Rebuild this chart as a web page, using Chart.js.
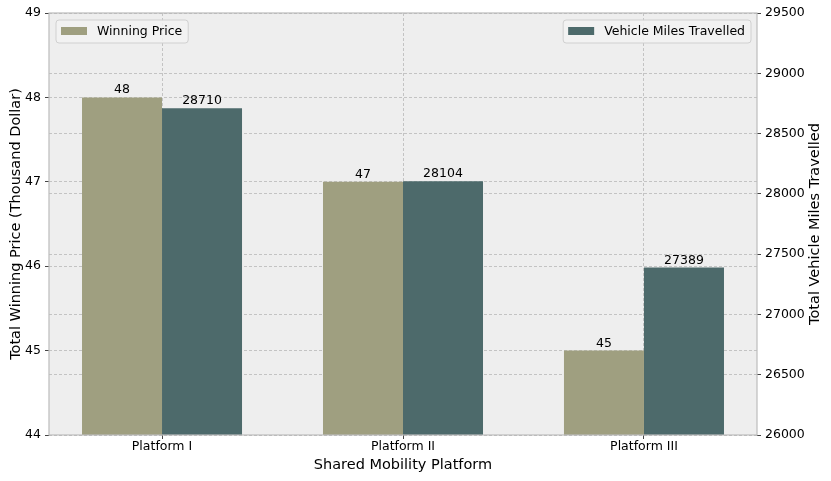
<!DOCTYPE html>
<html>
<head>
<meta charset="utf-8">
<script src="https://cdn.jsdelivr.net/npm/chart.js@4.4.1/dist/chart.umd.min.js"></script>
<style>
  html, body { margin: 0; padding: 0; background: #fff; }
  #wrap { width: 831px; height: 481px; }
</style>
</head>
<body>
<div id="wrap"><canvas id="chart" width="831" height="481"></canvas></div>
<script>
// Data
const categories = ['Platform I', 'Platform II', 'Platform III'];
const winningPrice = [48, 47, 45];
const vehicleMiles = [28710, 28104, 27389];
const priceRange = [44, 49, 1];       // min, max, step (thousand dollar)
const milesRange = [26000, 29500, 500];

const FONT = 'DejaVu Sans';
const priceColor = '#9f9f80';
const milesColor = '#4d6a6b';
const gridColor = '#b8b8b8';

Chart.defaults.font.family = FONT;
Chart.defaults.color = '#000';

// background, frame, value labels, legends, right title
const decor = {
    id: 'decor',
    beforeDraw(chart) {
        const { ctx, chartArea: a } = chart;
        ctx.save();
        ctx.fillStyle = '#eeeeee';
        ctx.fillRect(a.left, a.top, a.right - a.left, a.bottom - a.top);
        ctx.restore();
    },
    afterDraw(chart) {
        const { ctx, chartArea: a } = chart;
        ctx.save();
        // frame
        ctx.strokeStyle = '#bcbcbc';
        ctx.lineWidth = 1.2;
        ctx.strokeRect(a.left, a.top, a.right - a.left, a.bottom - a.top);

        // value labels
        ctx.fillStyle = '#000';
        ctx.font = '12.5px ' + FONT;
        ctx.textAlign = 'center';
        ctx.textBaseline = 'bottom';
        chart.data.datasets.forEach((ds, di) => {
            chart.getDatasetMeta(di).data.forEach((bar, i) => {
                const v = di === 0 ? winningPrice[i] : vehicleMiles[i];
                ctx.fillText(String(v), bar.x, bar.y - 1);
            });
        });

        // legends
        ctx.font = '12.5px ' + FONT;
        ctx.textBaseline = 'middle';
        ctx.textAlign = 'left';
        const drawLegend = (ds, alignRight) => {
            const tw = ctx.measureText(ds.label).width;
            const w = 6 + 26 + 9 + tw + 6;
            const h = 23;
            const x = alignRight ? a.right - 6 - w : a.left + 7;
            const y = a.top + 7;
            ctx.fillStyle = 'rgba(242,242,242,0.85)';
            ctx.strokeStyle = '#d0d0d0';
            ctx.lineWidth = 1;
            ctx.beginPath();
            ctx.roundRect(x, y, w, h, 3);
            ctx.fill();
            ctx.stroke();
            ctx.fillStyle = ds.backgroundColor;
            ctx.fillRect(x + 5, y + 7, 26, 8);
            ctx.fillStyle = '#000';
            ctx.fillText(ds.label, x + 41, y + h / 2 + 0.5);
        };
        drawLegend(chart.data.datasets[0], false);
        drawLegend(chart.data.datasets[1], true);

        // right axis title, reading bottom to top like the left one
        ctx.font = '14.5px ' + FONT;
        ctx.textAlign = 'center';
        ctx.textBaseline = 'middle';
        ctx.translate(815, (a.top + a.bottom) / 2);
        ctx.rotate(-Math.PI / 2);
        ctx.fillText('Total Vehicle Miles Travelled', 0, 0);
        ctx.restore();
    }
};

const gridOpts = {
    color: gridColor,
    lineWidth: 0.8,
    offset: false,
    tickLength: 4,
    tickColor: '#444',
    tickWidth: 1,
    tickBorderDash: []
};

new Chart(document.getElementById('chart'), {
    type: 'bar',
    data: {
        datasets: [{
            label: 'Winning Price',
            data: categories.map((c, i) => ({ x: i, y: winningPrice[i] })),
            backgroundColor: priceColor,
            yAxisID: 'y',
            categoryPercentage: 0.664,
            barPercentage: 1
        }, {
            label: 'Vehicle Miles Travelled',
            data: categories.map((c, i) => ({ x: i, y: vehicleMiles[i] })),
            backgroundColor: milesColor,
            yAxisID: 'y2',
            categoryPercentage: 0.664,
            barPercentage: 1
        }]
    },
    options: {
        responsive: false,
        animation: false,
        layout: { padding: { top: 13, left: 0, right: 0, bottom: 0 } },
        plugins: { legend: { display: false }, tooltip: { enabled: false } },
        scales: {
            x: {
                type: 'linear',
                offset: false,
                min: -0.469,
                max: 2.469,
                z: 1,
                ticks: {
                    stepSize: 1,
                    includeBounds: false,
                    font: { size: 12.5 },
                    padding: 0,
                    maxRotation: 0,
                    autoSkip: false,
                    callback: v => categories[v] ?? ''
                },
                grid: gridOpts,
                border: { display: false, dash: [3, 2] },
                title: { display: true, text: 'Shared Mobility Platform', font: { size: 14.5 }, padding: { top: 0, bottom: 7 } },
                afterFit: s => { s.height = 46; }
            },
            y: {
                position: 'left',
                min: priceRange[0],
                max: priceRange[1],
                z: 1,
                ticks: { stepSize: priceRange[2], font: { size: 12.5 }, padding: 4, callback: v => String(v) },
                grid: gridOpts,
                border: { display: false, dash: [3, 2] },
                title: { display: true, text: 'Total Winning Price (Thousand Dollar)', font: { size: 14.5 }, padding: { top: 8, bottom: 2 } },
                afterFit: s => { s.width = 49; }
            },
            y2: {
                position: 'right',
                min: milesRange[0],
                max: milesRange[1],
                z: 1,
                ticks: { stepSize: milesRange[2], font: { size: 12.5 }, padding: 4, callback: v => String(v) },
                grid: gridOpts,
                border: { display: false, dash: [3, 2] },
                afterFit: s => { s.width = 74; }
            }
        }
    },
    plugins: [decor]
});
</script>
</body>
</html>
